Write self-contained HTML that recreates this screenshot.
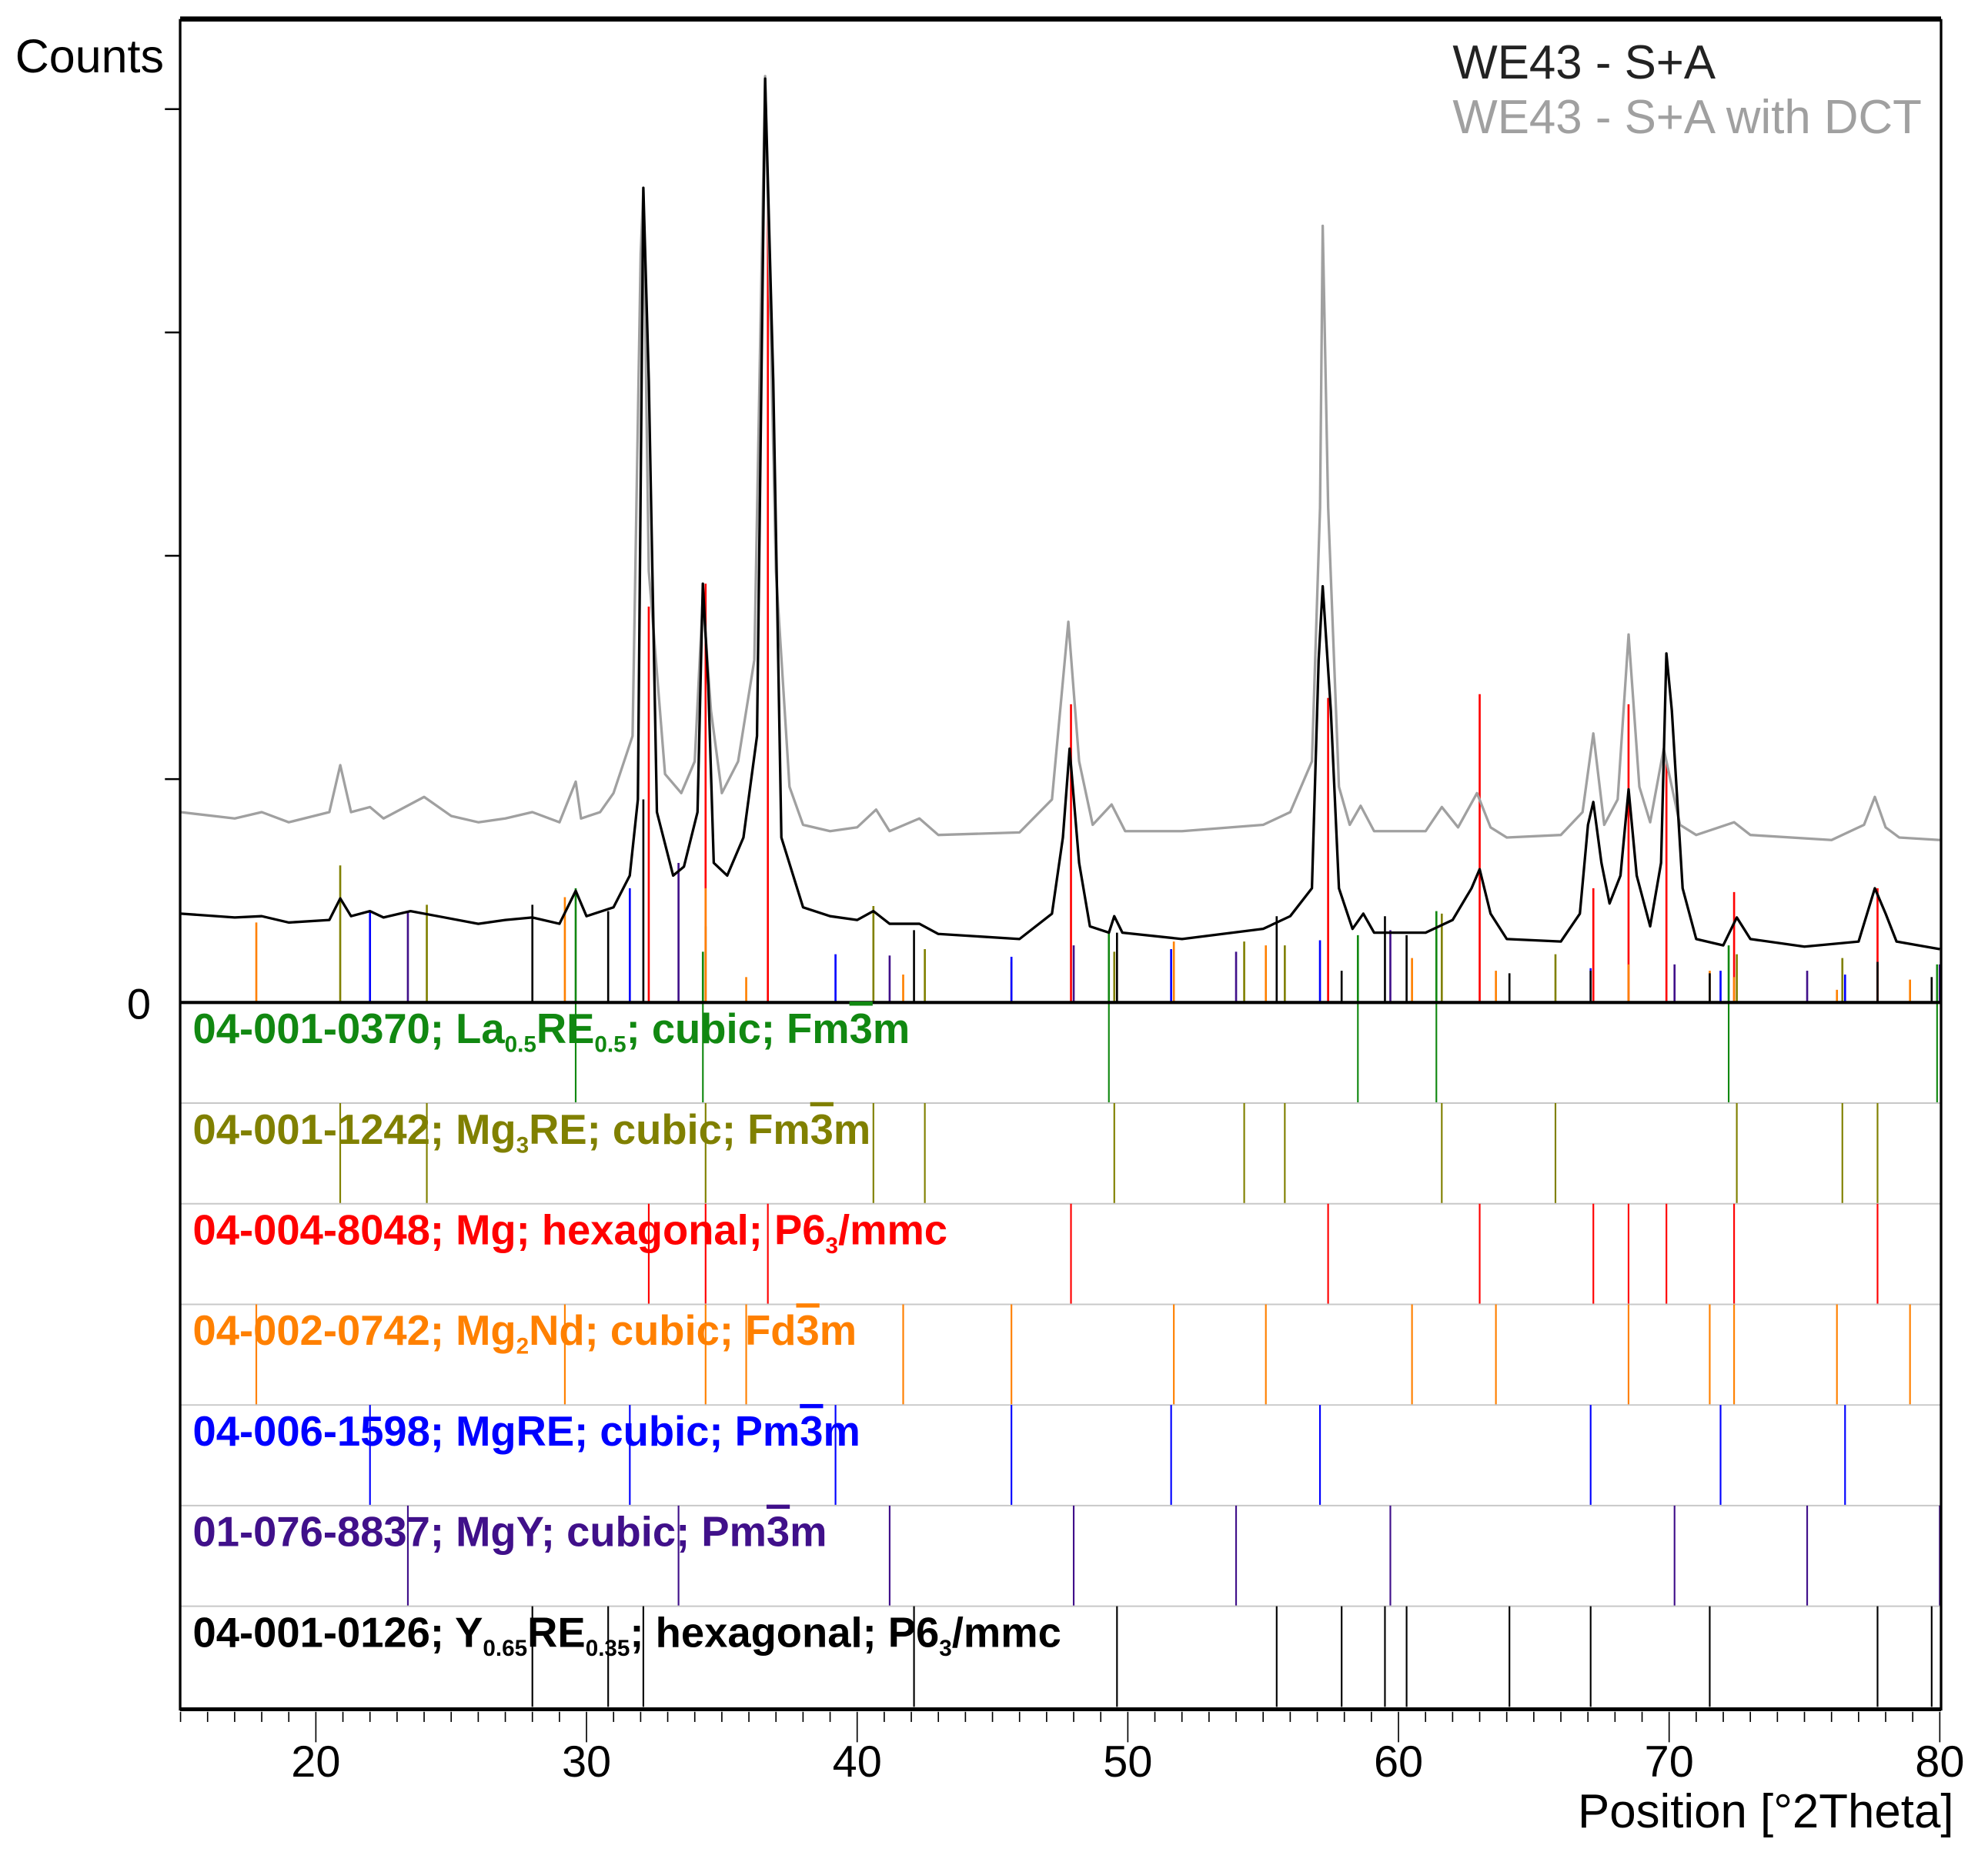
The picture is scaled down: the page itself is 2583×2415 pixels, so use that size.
<!DOCTYPE html>
<html><head><meta charset="utf-8"><title>XRD pattern WE43</title>
<style>
html,body{margin:0;padding:0;background:#fff;}
svg{display:block;}
text{font-family:"Liberation Sans",Arial,sans-serif;}
.lbl{font-weight:bold;font-size:33px;}
.ol{text-decoration:overline;}
</style></head>
<body>
<svg id="chart" width="2583" height="2415" viewBox="0 0 1567 1465" preserveAspectRatio="none" xmlns="http://www.w3.org/2000/svg">
  <rect x="0" y="0" width="1567" height="1465" fill="#fff"/>
  <g id="refStrips"></g>
  <g id="mainSticks"></g>
  <g id="curves"></g>
  <g id="axes"></g>
  <text x="12" y="57" font-size="37">Counts</text>
  <text x="100" y="803" font-size="34">0</text>
  <text x="1145" y="62" font-size="37.5" fill="#222">WE43 - S+A</text>
  <text x="1145" y="105" font-size="37.5" fill="#a0a0a0">WE43 - S+A with DCT</text>
  <text x="1540" y="1440" font-size="37.5" text-anchor="end">Position [°2Theta]</text>
</svg>
<script>
// ---- data ----
const blackX=[15,17,18,19,20.5,20.9,21.3,22,22.5,23.5,24.5,26,27,28,29,29.6,30,31,31.6,31.9,32.1,32.3,32.6,33.2,33.6,34.1,34.3,34.5,34.7,35.2,35.8,36.3,36.6,36.9,37.2,38,39,40,40.6,41.2,42.3,43,46,47.2,47.6,47.85,48.2,48.6,49.3,49.5,49.8,52,55,56,56.8,57.05,57.2,57.5,57.8,58.3,58.7,59.1,61,62,62.7,63,63.4,64,66,66.7,67.0,67.2,67.5,67.8,68.2,68.5,68.8,69.3,69.7,69.9,70.1,70.5,71,72,72.5,73,75,77,77.6,78,78.4,80];
const blackY=[70,67,68,63,65,82,68,72,67,72,68,62,65,67,62,88,68,75,100,160,642,490,150,100,107,150,330,250,110,100,130,210,728,490,130,75,68,65,72,62,62,54,50,70,130,200,110,60,55,68,55,50,58,68,90,270,328,230,90,58,70,55,55,65,90,105,70,50,48,70,140,158,110,78,100,168,100,60,110,275,230,90,50,45,67,50,44,48,90,70,48,42];
const grayX=[15,17,18,19,20.5,20.9,21.3,22,22.5,24,25,26,27,28,29,29.6,29.8,30.5,31,31.7,32.0,32.1,32.3,32.9,33.5,34,34.3,34.6,35,35.6,36.2,36.6,37,37.5,38,39,40,40.7,41.2,42.3,43,46,47.2,47.8,48.2,48.7,49.4,49.9,52,55,56,56.8,57.1,57.2,57.4,57.8,58.2,58.6,59.1,61,61.6,62.2,62.9,63.4,64,66,66.8,67.2,67.6,68.1,68.5,68.9,69.3,69.8,70.4,71,72.4,73,76,77.2,77.6,78,78.5,80];
const grayY=[150,145,150,142,150,187,150,154,145,162,147,142,145,150,142,174,145,150,165,210,590,640,340,180,165,190,320,230,165,190,270,730,340,170,140,135,138,152,135,145,132,134,160,300,190,140,156,135,135,140,150,190,390,612,390,170,140,155,135,135,154,138,165,138,130,132,150,212,140,160,290,170,142,200,140,132,142,132,128,140,162,138,130,128];

const phaseNames=["la-re","mg3re","mg","mg2nd","mgre","mgy","y-re"];
const phaseColors=["#118811","#808000","#ff0000","#ff8000","#0000ff","#40108a","#000000"];
const pos0=[29.6,34.3,49.3,58.5,61.4,72.2,79.9];
const int0=[90,40,55,53,72,45,30];
const pos1=[20.9,24.1,34.4,40.6,42.5,49.5,54.3,55.8,61.6,65.8,72.5,76.4,77.7];
const int1=[108,77,60,76,42,40,48,45,70,38,38,35,30];
const pos2=[32.3,34.4,36.7,47.9,57.4,63.0,67.2,68.5,69.9,72.4,77.7];
const int2=[312,330,630,235,240,243,90,235,190,87,90];
const pos3=[17.8,29.2,34.4,35.9,41.7,45.7,51.7,55.1,60.5,63.6,68.5,71.5,72.4,76.2,78.9];
const int3=[63,83,90,20,22,32,48,45,35,25,30,25,20,10,18];
const pos4=[22.0,31.6,39.2,45.7,51.6,57.1,67.1,71.9,76.5];
const int4=[72,90,38,36,42,49,27,25,22];
const pos5=[23.4,33.4,41.2,48.0,54.0,59.7,70.2,75.1,80.0];
const int5=[72,110,37,45,40,57,30,25,30];
const pos6=[28.0,30.8,32.1,42.1,49.6,55.5,57.9,59.5,60.3,64.1,67.1,71.5,77.7,79.7];
const int6=[77,72,160,57,55,68,25,68,53,23,25,23,32,20];
const xTicks=[20,30,40,50,60,70,80];
const yTicks=[0,176,352,528,704];

// ---- scales ----
const X0=142.3,X1=1529,XMIN=15,XMAX=80,Y0=790;
const sx=v=>X0+(v-XMIN)*(X1-X0)/(XMAX-XMIN);
const sy=v=>Y0-v;
const NS="http://www.w3.org/2000/svg";
function mk(tag,attrs,parent){const e=document.createElementNS(NS,tag);for(const k in attrs)e.setAttribute(k,attrs[k]);parent.appendChild(e);return e;}

const positions=[pos0,pos1,pos2,pos3,pos4,pos5,pos6];
const intens=[int0,int1,int2,int3,int4,int5,int6];
const stripTop=790,stripH=79.3;

const strips=document.getElementById('refStrips');
const mainSticks=document.getElementById('mainSticks');
for(let p=0;p<7;p++){
  const t=stripTop+p*stripH;
  if(p>0){const sep=mk('line',{x1:142,x2:1530,y1:t,y2:t,stroke:'#c8c8c8','stroke-width':1.2},strips);
  
  }
  positions[p].forEach((v,i)=>{
    const l=mk('line',{x1:sx(v),x2:sx(v),y1:t,y2:t+stripH,stroke:phaseColors[p],'stroke-width':1.3},strips);
    
    
    const m=mk('line',{x1:sx(v),x2:sx(v),y1:sy(0),y2:sy(intens[p][i]),stroke:phaseColors[p],'stroke-width':1.6},mainSticks);
    
    
  });
}
const curves=document.getElementById('curves');
function poly(xs,ys,color,name){
  const pts=xs.map((v,i)=>sx(v).toFixed(1)+','+sy(ys[i]).toFixed(1)).join(' ');
  const pl=mk('polyline',{points:pts,fill:'none',stroke:color,'stroke-width':2,'stroke-linejoin':'round'},curves);
  
  
}
poly(grayX,grayY,'#a0a0a0','series-we43-sa-dct');
poly(blackX,blackY,'#000000','series-we43-sa');

const axes=document.getElementById('axes');
const frame=mk('rect',{x:142,y:16,width:1388,height:1331,fill:'none',stroke:'#000','stroke-width':2},axes);


const topb=mk('line',{x1:142,x2:1530,y1:15,y2:15,stroke:'#000','stroke-width':4},axes);


const zl=mk('line',{x1:142,x2:1530,y1:790,y2:790,stroke:'#000','stroke-width':2.5},axes);


const bl=mk('line',{x1:142,x2:1530,y1:1347,y2:1347,stroke:'#000','stroke-width':3},axes);


yTicks.slice(1).forEach(v=>{
  const t=mk('line',{x1:130,x2:142,y1:sy(v),y2:sy(v),stroke:'#000','stroke-width':1.5},axes);
  
  
});
for(let v=XMIN;v<=XMAX;v++){
  const major=v%10===0;
  const t=mk('line',{x1:sx(v),x2:sx(v),y1:1349,y2:major?1373:1357,stroke:'#000','stroke-width':1},axes);
  
  
}
xTicks.forEach(v=>{
  const t=mk('text',{x:sx(v),y:1400,'font-size':35,'text-anchor':'middle'},axes);
  t.textContent=String(v);
  
  
});

const labelSegs=[
 [['04-001-0370; La','n'],['0.5','s'],['RE','n'],['0.5','s'],['; cubic; Fm','n'],['3','o'],['m','n']],
 [['04-001-1242; Mg','n'],['3','s'],['RE; cubic; Fm','n'],['3','o'],['m','n']],
 [['04-004-8048; Mg; hexagonal; P6','n'],['3','s'],['/mmc','n']],
 [['04-002-0742; Mg','n'],['2','s'],['Nd; cubic; Fd','n'],['3','o'],['m','n']],
 [['04-006-1598; MgRE; cubic; Pm','n'],['3','o'],['m','n']],
 [['01-076-8837; MgY; cubic; Pm','n'],['3','o'],['m','n']],
 [['04-001-0126; Y','n'],['0.65','s'],['RE','n'],['0.35','s'],['; hexagonal; P6','n'],['3','s'],['/mmc','n']]
];
const svg=document.getElementById('chart');
labelSegs.forEach((segs,i)=>{
  const t=mk('text',{x:152,y:(790+i*79.3+32).toFixed(1),'class':'lbl',fill:phaseColors[i]},svg);
  
  
  let lowered=false;
  segs.forEach(([s,k])=>{
    const ts=mk('tspan',{},t);
    if(k==='s'){ts.setAttribute('font-size','18');ts.setAttribute('dy',lowered?'0':'7');lowered=true;}
    else{ if(lowered){ts.setAttribute('dy','-7');lowered=false;} if(k==='o')ts.setAttribute('class','ol'); }
    ts.textContent=s;
  });
});
</script>
</body></html>
